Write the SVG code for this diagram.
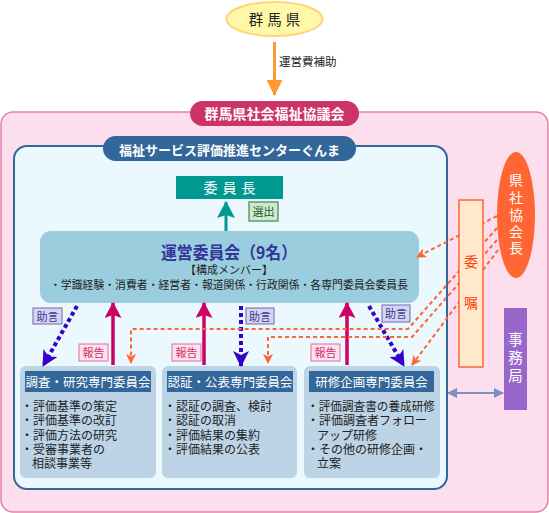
<svg xmlns="http://www.w3.org/2000/svg" width="549" height="513" viewBox="0 0 549 513">
<style>
text{font-family:"Noto Sans CJK JP","Noto Sans",sans-serif;}
.item{font-size:12px;fill:#222;}
.hdr{font-size:12.5px;fill:#fff;text-anchor:middle;}
.lblA{fill:#D8D3EE;stroke:#6A6AB0;stroke-width:1;}
.lblAt{font-size:11px;fill:#3A3A99;text-anchor:middle;}
.lblR{fill:#FFE0EE;stroke:#E0709A;stroke-width:1;}
.lblRt{font-size:11px;fill:#CC3366;text-anchor:middle;}
.blue{stroke:#3300CC;stroke-width:4;stroke-dasharray:4 3;fill:none;marker-end:url(#mBlue);}
.pink{stroke:#CC0066;stroke-width:3.5;fill:none;marker-end:url(#mPink);}
.orange{stroke:#FF6633;stroke-width:2;stroke-dasharray:4 3;fill:none;}
.orangeA{marker-end:url(#mOrange);}
.sub{fill:#BCD4E6;}
.subh{fill:#336699;}
</style>
<defs>
<marker id="mBlue" markerUnits="userSpaceOnUse" markerWidth="16" markerHeight="16" refX="15" refY="8" orient="auto"><path d="M0,0 L16,8 L0,16 L4,8 z" fill="#3300CC"/></marker>
<marker id="mPink" markerUnits="userSpaceOnUse" markerWidth="16" markerHeight="17" refX="15" refY="8.5" orient="auto"><path d="M0,0 L16,8.5 L0,17 L3,8.5 z" fill="#CC0066"/></marker>
<marker id="mTeal" markerUnits="userSpaceOnUse" markerWidth="17" markerHeight="18" refX="16" refY="9" orient="auto"><path d="M0,0 L17,9 L0,18 L3,9 z" fill="#009991"/></marker>
<marker id="mOrange" markerUnits="userSpaceOnUse" markerWidth="10" markerHeight="10" refX="9" refY="5" orient="auto"><path d="M0,0 L10,5 L0,10 L2.5,5 z" fill="#FF6633"/></marker>
<marker id="mOrangeBig" markerUnits="userSpaceOnUse" markerWidth="16" markerHeight="16" refX="15" refY="8" orient="auto"><path d="M0,0 L16,8 L0,16 z" fill="#FF9933"/></marker>
<marker id="mGray" markerUnits="userSpaceOnUse" markerWidth="10" markerHeight="10" refX="9" refY="5" orient="auto-start-reverse"><path d="M0,0 L10,5 L0,10 z" fill="#7A8FC4"/></marker>
</defs>

<g id="gunma-pref">
<ellipse cx="274.5" cy="19" rx="48" ry="17" fill="#FFF8A8" stroke="#FFD77A" stroke-width="2"/>
<text x="276.5" y="24.5" font-size="14.5" fill="#222" text-anchor="middle" letter-spacing="4">群馬県</text>
</g>

<g id="shakyo">
<rect x="1" y="112" width="547" height="400" rx="12" fill="#FCDEEC" stroke="#E680A8" stroke-width="1.5"/>
<rect x="190" y="101" width="169" height="25" rx="12.5" fill="#CC3366"/>
<text x="274.5" y="119" font-size="14" font-weight="bold" fill="#fff" text-anchor="middle">群馬県社会福祉協議会</text>
</g>

<g id="center">
<rect x="14" y="146" width="433" height="343" rx="13" fill="#EBF8FD" stroke="#336699" stroke-width="2"/>
<rect x="103" y="136" width="253" height="25" rx="12.5" fill="#336699"/>
<text x="229.5" y="154.5" font-size="13" font-weight="bold" fill="#fff" text-anchor="middle">福祉サービス評価推進センターぐんま</text>
</g>

<g id="chair">
<rect x="176" y="176" width="107" height="23" fill="#009991"/>
<text x="232" y="193" font-size="14" fill="#fff" text-anchor="middle" letter-spacing="5">委員長</text>
</g>

<g id="unei">
<rect x="40" y="231" width="379" height="72" rx="11" fill="#9ACEDE"/>
<text x="229" y="259" font-size="17" font-weight="bold" fill="#333399" text-anchor="middle" textLength="136" lengthAdjust="spacingAndGlyphs">運営委員会（9名）</text>
<text x="229" y="273.5" font-size="11" fill="#222" text-anchor="middle">【構成メンバー】</text>
<text x="229" y="289" font-size="11" fill="#222" text-anchor="middle" textLength="358" lengthAdjust="spacingAndGlyphs">・学識経験・消費者・経営者・報道関係・行政関係・各専門委員会委員長</text>
</g>

<g id="comm1">
<rect class="sub" x="20" y="366" width="136" height="112" rx="6"/>
<rect class="subh" x="25" y="371" width="126" height="21"/>
<text class="hdr" x="88" y="386.5">調査・研究専門委員会</text>
<text class="item" x="21" y="411">・評価基準の策定</text>
<text class="item" x="21" y="425.3">・評価基準の改訂</text>
<text class="item" x="21" y="439.6">・評価方法の研究</text>
<text class="item" x="21" y="453.9">・受審事業者の</text>
<text class="item" x="32" y="468.2">相談事業等</text>
</g>

<g id="comm2">
<rect class="sub" x="162" y="366" width="135" height="112" rx="6"/>
<rect class="subh" x="167" y="371" width="126" height="21"/>
<text class="hdr" x="230" y="386.5">認証・公表専門委員会</text>
<text class="item" x="164" y="411">・認証の調査、検討</text>
<text class="item" x="164" y="425.3">・認証の取消</text>
<text class="item" x="164" y="439.6">・評価結果の集約</text>
<text class="item" x="164" y="453.9">・評価結果の公表</text>
</g>

<g id="comm3">
<rect class="sub" x="304" y="366" width="136" height="112" rx="6"/>
<rect class="subh" x="309" y="371" width="125" height="21"/>
<text class="hdr" x="371.5" y="386.5">研修企画専門委員会</text>
<text class="item" x="307" y="411" textLength="128" lengthAdjust="spacingAndGlyphs">・評価調査書の養成研修</text>
<text class="item" x="307" y="425.3">・評価調査者フォロー</text>
<text class="item" x="317" y="439.6">アップ研修</text>
<text class="item" x="307" y="453.9">・その他の研修企画・</text>
<text class="item" x="317" y="468.2">立案</text>
</g>

<g id="connectors">
<line x1="274.5" y1="42" x2="274.5" y2="95" stroke="#FF9933" stroke-width="3" marker-end="url(#mOrangeBig)"/>
<line x1="226" y1="231" x2="226" y2="202" stroke="#009991" stroke-width="3" marker-end="url(#mTeal)"/>
<line class="pink" x1="113" y1="365" x2="113" y2="303"/>
<line class="pink" x1="204" y1="365" x2="204" y2="303"/>
<line class="pink" x1="347" y1="365" x2="347" y2="303"/>
<line class="blue" x1="77" y1="306" x2="43" y2="366"/>
<line class="blue" x1="241" y1="306" x2="241" y2="366"/>
<line class="blue" x1="369" y1="306" x2="404" y2="366"/>
<path class="orange orangeA" d="M497,216 L417,257"/>
<path class="orange orangeA" d="M497,228 L408,329 L131,329 L131,363"/>
<path class="orange orangeA" d="M497,240 L412,337 L268,337 L268,363"/>
<path class="orange orangeA" d="M498,250 L412,365"/>
<line x1="448" y1="393" x2="503" y2="393" stroke="#7A8FC4" stroke-width="2" marker-start="url(#mGray)" marker-end="url(#mGray)"/>
</g>

<g id="labels">
<text x="279" y="66" font-size="11.5" fill="#222">運営費補助</text>
<rect x="249" y="202" width="29" height="19" fill="#CDEBCB" stroke="#5E9A70" stroke-width="1.5"/>
<text x="263.5" y="216" font-size="11" fill="#225533" text-anchor="middle">選出</text>
<rect class="lblA" x="33" y="308" width="29" height="16"/><text class="lblAt" x="47.5" y="320.5">助言</text>
<rect class="lblA" x="246" y="308" width="28" height="16"/><text class="lblAt" x="260" y="320.5">助言</text>
<rect class="lblA" x="382" y="305" width="28" height="17"/><text class="lblAt" x="396" y="318">助言</text>
<rect class="lblR" x="79" y="344" width="29" height="17"/><text class="lblRt" x="93.5" y="357">報告</text>
<rect class="lblR" x="172" y="344" width="29" height="17"/><text class="lblRt" x="186.5" y="357">報告</text>
<rect class="lblR" x="311" y="344" width="29" height="17"/><text class="lblRt" x="325.5" y="357">報告</text>
</g>

<g id="ishoku">
<rect x="459" y="200" width="24" height="167" fill="#FFE9CC" stroke="#FF6633" stroke-width="1.5"/>
<text x="471" y="267" font-size="14" fill="#FF4411" text-anchor="middle">委</text>
<text x="471" y="308" font-size="14" fill="#FF4411" text-anchor="middle">嘱</text>
</g>

<g id="kaicho">
<ellipse cx="516" cy="215" rx="19" ry="63" fill="#FF6633"/>
<text font-size="14" fill="#fff" text-anchor="middle"><tspan x="516" y="185">県</tspan><tspan x="516" y="203">社</tspan><tspan x="516" y="220">協</tspan><tspan x="516" y="237">会</tspan><tspan x="516" y="253">長</tspan></text>
</g>

<g id="jimukyoku">
<rect x="504" y="308" width="23" height="102" fill="#9966CC"/>
<text font-size="14.5" fill="#fff" text-anchor="middle"><tspan x="515.5" y="345">事</tspan><tspan x="515.5" y="363">務</tspan><tspan x="515.5" y="381">局</tspan></text>
</g>
</svg>
